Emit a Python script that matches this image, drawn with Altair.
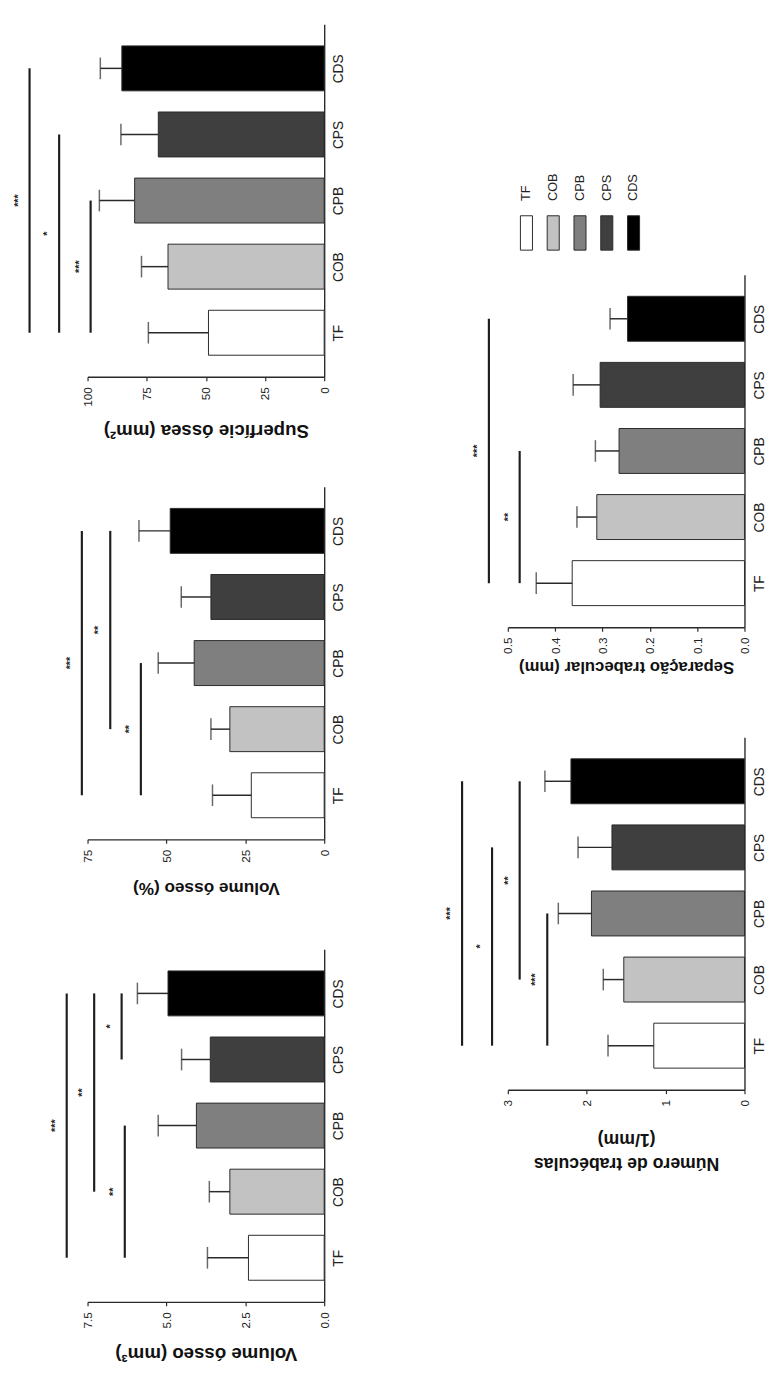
import json
import altair as alt
import pandas as pd

# ---------------- data ----------------
categories = ["TF", "COB", "CPB", "CPS", "CDS"]
fill_colors = ["#ffffff", "#c2c2c2", "#7f7f7f", "#3f3f3f", "#000000"]

# Volume ósseo (mm³)
vmm_mean = [2.40, 2.99, 4.05, 3.61, 4.95]
vmm_err = [1.30, 0.65, 1.21, 0.91, 0.97]
vmm_ticks = [0, 2.5, 5.0, 7.5]
vmm_sig_from = ["TF", "CPS", "COB", "TF"]
vmm_sig_to = ["CPB", "CDS", "CDS", "CDS"]
vmm_sig_val = [6.32, 6.42, 7.29, 8.16]
vmm_sig_txt = ["**", "*", "**", "***"]

# Volume ósseo (%)
vpc_mean = [23.1, 29.9, 41.2, 35.9, 48.8]
vpc_err = [12.3, 6.0, 11.4, 9.4, 9.9]
vpc_ticks = [0, 25, 50, 75]
vpc_sig_from = ["TF", "COB", "TF"]
vpc_sig_to = ["CPB", "CDS", "CDS"]
vpc_sig_val = [58.1, 67.8, 76.8]
vpc_sig_txt = ["**", "**", "***"]

# Superfície óssea (mm²)
sup_mean = [48.9, 66.0, 80.1, 70.1, 85.5]
sup_err = [25.4, 11.2, 14.9, 15.8, 9.1]
sup_ticks = [0, 25, 50, 75, 100]
sup_sig_from = ["TF", "TF", "TF"]
sup_sig_to = ["CPB", "CPS", "CDS"]
sup_sig_val = [98.7, 112.0, 124.5]
sup_sig_txt = ["***", "*", "***"]

# Número de trabéculas (1/mm)
num_mean = [1.15, 1.53, 1.94, 1.68, 2.20]
num_err = [0.58, 0.26, 0.42, 0.43, 0.33]
num_ticks = [0, 1, 2, 3]
num_sig_from = ["TF", "COB", "TF", "TF"]
num_sig_to = ["CPB", "CDS", "CPS", "CDS"]
num_sig_val = [2.50, 2.85, 3.20, 3.58]
num_sig_txt = ["***", "**", "*", "***"]

# Separação trabecular (mm)
sep_mean = [0.364, 0.312, 0.265, 0.305, 0.247]
sep_err = [0.076, 0.042, 0.050, 0.057, 0.037]
sep_ticks = [0, 0.1, 0.2, 0.3, 0.4, 0.5]
sep_sig_from = ["TF", "TF"]
sep_sig_to = ["CPB", "CDS"]
sep_sig_val = [0.475, 0.54]
sep_sig_txt = ["**", "***"]

# ---------------- style ----------------
FONT = "Liberation Sans"
INK = "#2a2a2a"
W = 241
H = 359
Y_DOMAIN = [-0.667, 4.667]
HALF_BAR = 0.34
LABEL_EXPR = json.dumps(categories) + "[datum.value]"


def panel(title, means, errs, ticks, fmt, sig_from, sig_to, sig_val, sig_txt,
          title_y, title_size=17):
    bars = pd.DataFrame({
        "cat": categories,
        "idx": list(range(len(categories))),
        "mean": means,
        "err": errs,
    })
    sig = pd.DataFrame({
        "a": [categories.index(c) for c in sig_from],
        "b": [categories.index(c) for c in sig_to],
        "val": sig_val,
        "txt": sig_txt,
    })

    xscale = alt.Scale(domain=[0, ticks[-1]], reverse=True, nice=False, zero=True)
    yscale = alt.Scale(domain=Y_DOMAIN, nice=False, zero=False)
    xaxis = alt.Axis(
        values=ticks, format=fmt, title=title, grid=False,
        labelAngle=270, labelAlign="right", labelBaseline="middle",
        labelFlush=False, labelFontSize=12, labelPadding=6, labelColor="#222",
        tickSize=4, tickColor=INK, tickWidth=1.2,
        domainColor=INK, domainWidth=1.4,
        titleAngle=180, titleBaseline="bottom", titleY=title_y,
        titleFontSize=title_size, titleFontWeight="bold", titleColor="#111",
        titleLineHeight=24,
    )
    yaxis = alt.Axis(
        orient="right", values=list(range(len(categories))), labelExpr=LABEL_EXPR,
        ticks=False, grid=False, title=None,
        labelAngle=270, labelAlign="center", labelBaseline="top",
        labelPadding=8, labelFontSize=14, labelColor="#222",
        domainColor=INK, domainWidth=1.4,
    )

    def X(f):
        return alt.X(f"{f}:Q", scale=xscale, axis=xaxis)

    def Y(f):
        return alt.Y(f"{f}:Q", scale=yscale, axis=yaxis)

    base = alt.Chart(bars)
    bar = base.transform_calculate(
        lo=f"datum.idx - {HALF_BAR}", hi=f"datum.idx + {HALF_BAR}"
    ).mark_bar(stroke=INK, strokeWidth=1).encode(
        x=X("mean"), x2=alt.datum(0),
        y=Y("lo"), y2="hi:Q",
        color=alt.Color("cat:N", scale=alt.Scale(domain=categories, range=fill_colors),
                        legend=None),
    )
    ebar = base.transform_calculate(top="datum.mean + datum.err").mark_rule(
        color=INK, strokeWidth=1.5
    ).encode(x=X("mean"), x2="top:Q", y=Y("idx"))
    cap = base.transform_calculate(top="datum.mean + datum.err").mark_tick(
        orient="vertical", size=22, thickness=1.5, color=INK
    ).encode(x=X("top"), y=Y("idx"))

    sbase = alt.Chart(sig)
    lines = sbase.mark_rule(color="#1e1e1e", strokeWidth=2.2).encode(
        x=X("val"), y=Y("a"), y2="b:Q"
    )
    stars = sbase.transform_calculate(mid="(datum.a + datum.b) / 2").mark_text(
        angle=270, align="center", baseline="middle", dy=-11, fontSize=11,
        color="#1e1e1e", fontWeight="bold"
    ).encode(x=X("val"), y=Y("mid"), text="txt:N")

    return alt.layer(bar, ebar, cap, lines, stars).properties(width=W, height=H)


sup = panel("Superfície óssea (mm²)", sup_mean, sup_err, sup_ticks, "d",
            sup_sig_from, sup_sig_to, sup_sig_val, sup_sig_txt, 45, 19)
vpc = panel("Volume ósseo (%)", vpc_mean, vpc_err, vpc_ticks, "d",
            vpc_sig_from, vpc_sig_to, vpc_sig_val, vpc_sig_txt, 40, 17.5)
vmm = panel("Volume ósseo (mm³)", vmm_mean, vmm_err, vmm_ticks, ".1f",
            vmm_sig_from, vmm_sig_to, vmm_sig_val, vmm_sig_txt, 43, 19)
sep = panel("Separação trabecular (mm)", sep_mean, sep_err, sep_ticks, ".1f",
            sep_sig_from, sep_sig_to, sep_sig_val, sep_sig_txt, 31, 17)
num = panel(["Número de trabéculas", "(1/mm)"], num_mean, num_err, num_ticks, "d",
            num_sig_from, num_sig_to, num_sig_val, num_sig_txt, 65, 18)

# legend
leg_df = pd.DataFrame({"cat": categories})
leg_x = alt.X("cat:N", scale=alt.Scale(domain=categories, paddingInner=0.55,
                                        paddingOuter=0.47), axis=None)
swatch = alt.Chart(leg_df).mark_bar(stroke=INK, strokeWidth=1).encode(
    x=leg_x,
    color=alt.Color("cat:N", scale=alt.Scale(domain=categories, range=fill_colors),
                    legend=None),
)
leg_text = alt.Chart(leg_df).mark_text(
    angle=270, align="left", baseline="middle", dx=15, fontSize=13, color="#222"
).encode(x=leg_x, y=alt.value(0), text="cat:N")
legend = alt.layer(swatch, leg_text).properties(width=147, height=35)


def spacer(h):
    return alt.Chart(pd.DataFrame({"v": [0]})).mark_rect(opacity=0).properties(
        width=147, height=h)


left = alt.vconcat(sup, vpc, vmm, spacing=112, bounds="flush")
right = alt.vconcat(spacer(170), legend, sep, spacer(62), num,
                    spacing=25, bounds="flush")
chart = alt.hconcat(left, right, spacing=101, bounds="full").properties(
    padding={"left": 4, "top": 4, "right": 5, "bottom": 5}
).configure(font=FONT).configure_view(stroke=None)

chart.save("out.html", embed_options={"renderer": "svg", "actions": False})
